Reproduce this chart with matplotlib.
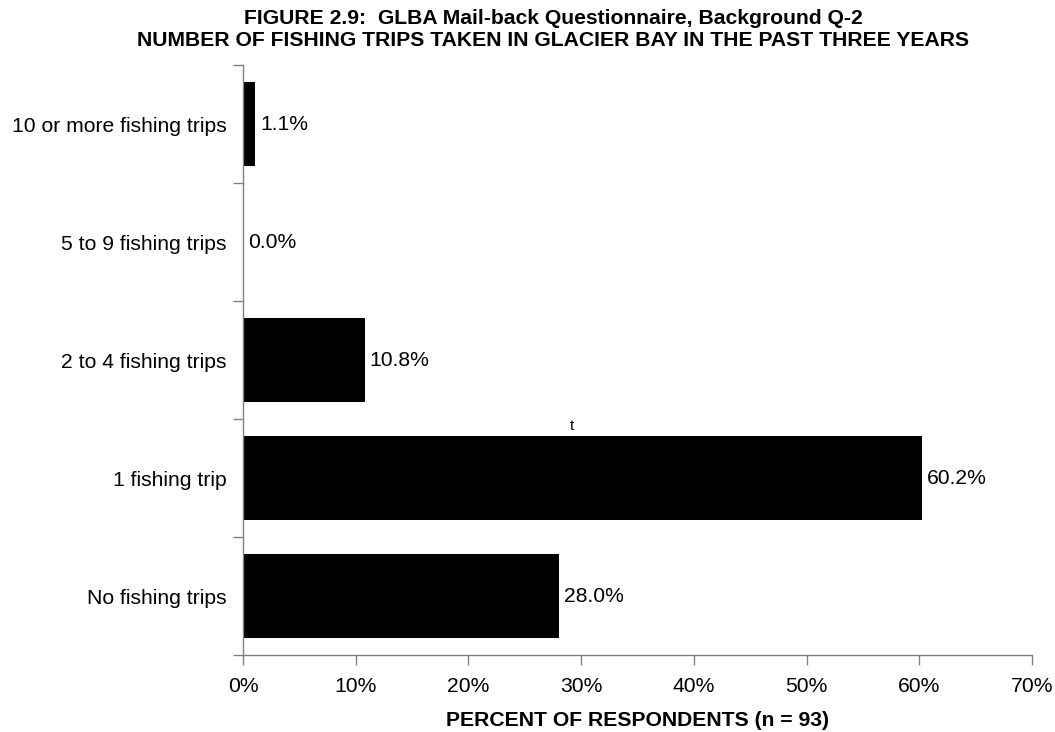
import matplotlib
matplotlib.use("Agg")
import matplotlib.pyplot as plt
import numpy as np

categories = ["No fishing trips", "1 fishing trip", "2 to 4 fishing trips",
              "5 to 9 fishing trips", "10 or more fishing trips"]
values = [28.0, 60.2, 10.8, 0.0, 1.1]
xticks = [0, 10, 20, 30, 40, 50, 60, 70]

plt.rcParams['font.family'] = ['Liberation Sans', 'DejaVu Sans']
FS = 15.2

fig = plt.figure(figsize=(10.55, 7.32), dpi=100)
ax = fig.add_axes([243/1055, 1-655/732, (1032-243)/1055, (655-65)/732])

y = np.arange(len(categories))
ax.barh(y, values, height=0.72, color='black')
for yi, v in zip(y, values):
    ax.text(v + 0.45, yi, f"{v:.1f}%", va='center', ha='left', fontsize=FS)

ax.text(29.2, 1.38, "t", fontsize=11, ha='center', va='bottom')

ax.set_xlim(0, 70)
ax.set_ylim(-0.5, len(categories) - 0.5)
ax.set_xticks(xticks)
ax.set_xticklabels([f"{t}%" for t in xticks], fontsize=FS)
ax.set_yticks(y)
ax.set_yticklabels(categories, fontsize=FS)
ax.tick_params(axis='y', length=0, pad=12)
ax.set_yticks(np.arange(-0.5, len(categories), 1.0), minor=True)
ax.tick_params(axis='y', which='minor', length=7, color='#808080', width=1)
ax.tick_params(axis='x', length=7, color='#808080', width=1, pad=9)

for s in ['top', 'right']:
    ax.spines[s].set_visible(False)
for s in ['left', 'bottom']:
    ax.spines[s].set_color('#808080')
    ax.spines[s].set_linewidth(1)

ax.set_xlabel("PERCENT OF RESPONDENTS (n = 93)", fontsize=FS, fontweight='bold', labelpad=11)

fig.text(553/1055, 1-19/732, "FIGURE 2.9:  GLBA Mail-back Questionnaire, Background Q-2",
         ha='center', va='center', fontsize=FS, fontweight='bold')
fig.text(553/1055, 1-40/732, "NUMBER OF FISHING TRIPS TAKEN IN GLACIER BAY IN THE PAST THREE YEARS",
         ha='center', va='center', fontsize=FS, fontweight='bold')

fig.savefig("out.png", dpi=100)
